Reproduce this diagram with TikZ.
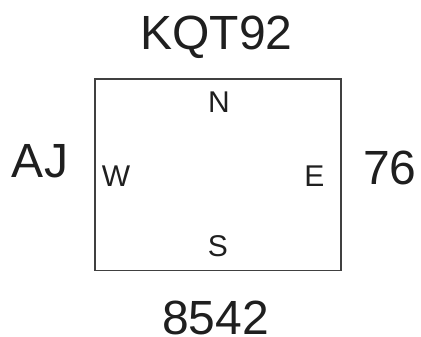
\documentclass[tikz,border=0pt]{standalone}
\usepackage{fontspec}
\setmainfont{Liberation Sans}
\begin{document}
\begin{tikzpicture}[x=1pt,y=-1pt,
  big/.style={font=\fontsize{48}{50}\selectfont, inner sep=0pt, anchor=base, text=black!88},
  small/.style={font=\fontsize{30}{32}\selectfont, inner sep=0pt, anchor=base, text=black!88},
  frame/.style={draw=black!75, line width=1.1pt}]
\useasboundingbox (0,0) rectangle (421,337);
\node[frame, minimum width=246pt, minimum height=191.5pt, inner sep=0pt] (box) at (218,174.75) {};
\node[big] (top) at (216.5,49.5) {KQT92};
\node[big] (left) at (40,177.5) {AJ};
\node[big] (right) at (390,184.5) {76};
\node[big] (bottom) at (215.7,334.5) {8542};
\node[small] (n) at (219,113) {N};
\node[small] (w) at (116,186) {W};
\node[small] (e) at (314.5,186) {E};
\node[small] (s) at (218,256.5) {S};
\end{tikzpicture}
\end{document}
